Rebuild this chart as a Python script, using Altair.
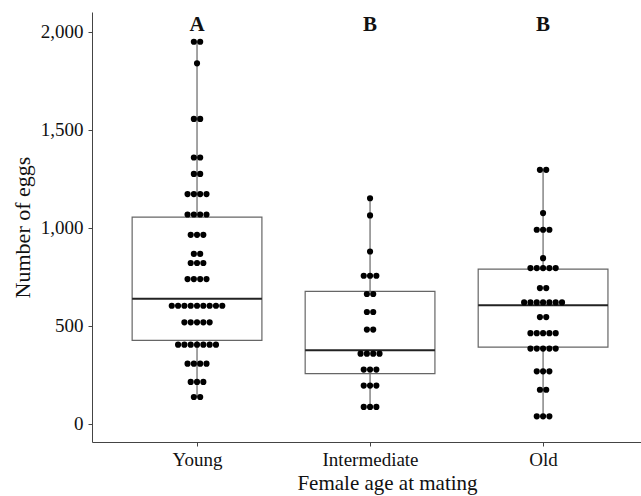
import altair as alt
import pandas as pd

groups = ["Young", "Intermediate", "Old"]
letters = ["A", "B", "B"]

# dot-plot rows (value) and number of dots in each row
young_rows = [1950, 1840, 1556, 1359, 1275, 1172, 1068, 964, 867, 820, 738, 602, 517, 403, 306, 213, 136]
young_counts = [2, 1, 2, 2, 2, 4, 4, 3, 2, 3, 4, 9, 5, 7, 4, 3, 2]
inter_rows = [1151, 1063, 879, 755, 662, 570, 480, 357, 276, 194, 85]
inter_counts = [1, 1, 1, 3, 2, 2, 2, 4, 3, 3, 3]
old_rows = [1296, 1075, 990, 845, 794, 692, 619, 544, 462, 383, 267, 173, 37]
old_counts = [2, 1, 3, 1, 5, 2, 7, 2, 5, 5, 3, 2, 3]

# box statistics
q1 = [425, 255, 391]
median = [638, 374, 604]
q3 = [1054, 675, 789]
whisker_lo = [136, 85, 37]
whisker_hi = [1950, 1151, 1296]

DOT_STEP = 0.0365  # stacking step in category units
BOX_HALF = 0.375

rows = []
for gi, (vals, cnts) in enumerate([(young_rows, young_counts), (inter_rows, inter_counts), (old_rows, old_counts)]):
    for v, n in zip(vals, cnts):
        for i in range(n):
            rows.append({"group": groups[gi], "pos": gi + 1 + (i - (n - 1) / 2) * DOT_STEP, "eggs": v})
dots = pd.DataFrame(rows)

box = pd.DataFrame({
    "group": groups,
    "pos": [1, 2, 3],
    "left": [i + 1 - BOX_HALF for i in range(3)],
    "right": [i + 1 + BOX_HALF for i in range(3)],
    "q1": q1, "median": median, "q3": q3, "lo": whisker_lo, "hi": whisker_hi,
    "letter": letters,
})

FONT = "Liberation Serif"
xscale = alt.Scale(domain=[0.393, 3.566], nice=False, zero=False)
yscale = alt.Scale(domain=[-94, 2102], nice=False, zero=False)

label_expr = "datum.value == 1 ? 'Young' : datum.value == 2 ? 'Intermediate' : 'Old'"

xaxis = alt.Axis(values=[1, 2, 3], labelExpr=label_expr, title="Female age at mating",
                 grid=False, domainColor="#444", tickColor="#444", tickSize=4, labelPadding=4,
                 labelFont=FONT, labelFontSize=19, labelColor="#111",
                 titleFont=FONT, titleFontSize=21, titleFontWeight="normal", titleColor="#111",
                 titleX=295, titleY=41, titleBaseline="middle", titleAlign="center")
yaxis = alt.Axis(values=[0, 500, 1000, 1500, 2000], format=",.0f", title="Number of eggs",
                 grid=False, domainColor="#444", tickColor="#444", tickSize=4, labelPadding=5,
                 labelFont=FONT, labelFontSize=19, labelColor="#111",
                 titleFont=FONT, titleFontSize=22, titleFontWeight="normal", titleColor="#111",
                 titleX=-70, titleY=215, titleBaseline="middle", titleAlign="center", titleAngle=-90)

base = alt.Chart(box)

whisk = base.mark_rule(color="#666", strokeWidth=1.2).encode(
    x=alt.X("pos:Q", scale=xscale, axis=xaxis),
    y=alt.Y("lo:Q", scale=yscale, axis=yaxis),
    y2="hi:Q",
)
boxes = base.mark_rect(fill="white", stroke="#666", strokeWidth=1.2).encode(
    x=alt.X("left:Q", scale=xscale), x2="right:Q",
    y=alt.Y("q1:Q", scale=yscale), y2="q3:Q",
)
med = base.mark_rule(color="#222", strokeWidth=2).encode(
    x=alt.X("left:Q", scale=xscale), x2="right:Q",
    y=alt.Y("median:Q", scale=yscale),
)
pts = alt.Chart(dots).mark_circle(color="black", opacity=1, size=38).encode(
    x=alt.X("pos:Q", scale=xscale),
    y=alt.Y("eggs:Q", scale=yscale),
)
labs = base.mark_text(font=FONT, fontSize=21, fontWeight="bold", color="#111", baseline="middle").encode(
    x=alt.X("pos:Q", scale=xscale),
    y=alt.value(13),
    text="letter:N",
)

chart = alt.layer(whisk, boxes, med, pts, labs).properties(
    width=549, height=430,
    padding={"left": 92, "top": 12, "right": 0, "bottom": 54},
    autosize=alt.AutoSizeParams(type="none"),
    background="white",
).configure_view(stroke=None)

chart.save("out.html", embed_options={"renderer": "svg", "actions": False})
